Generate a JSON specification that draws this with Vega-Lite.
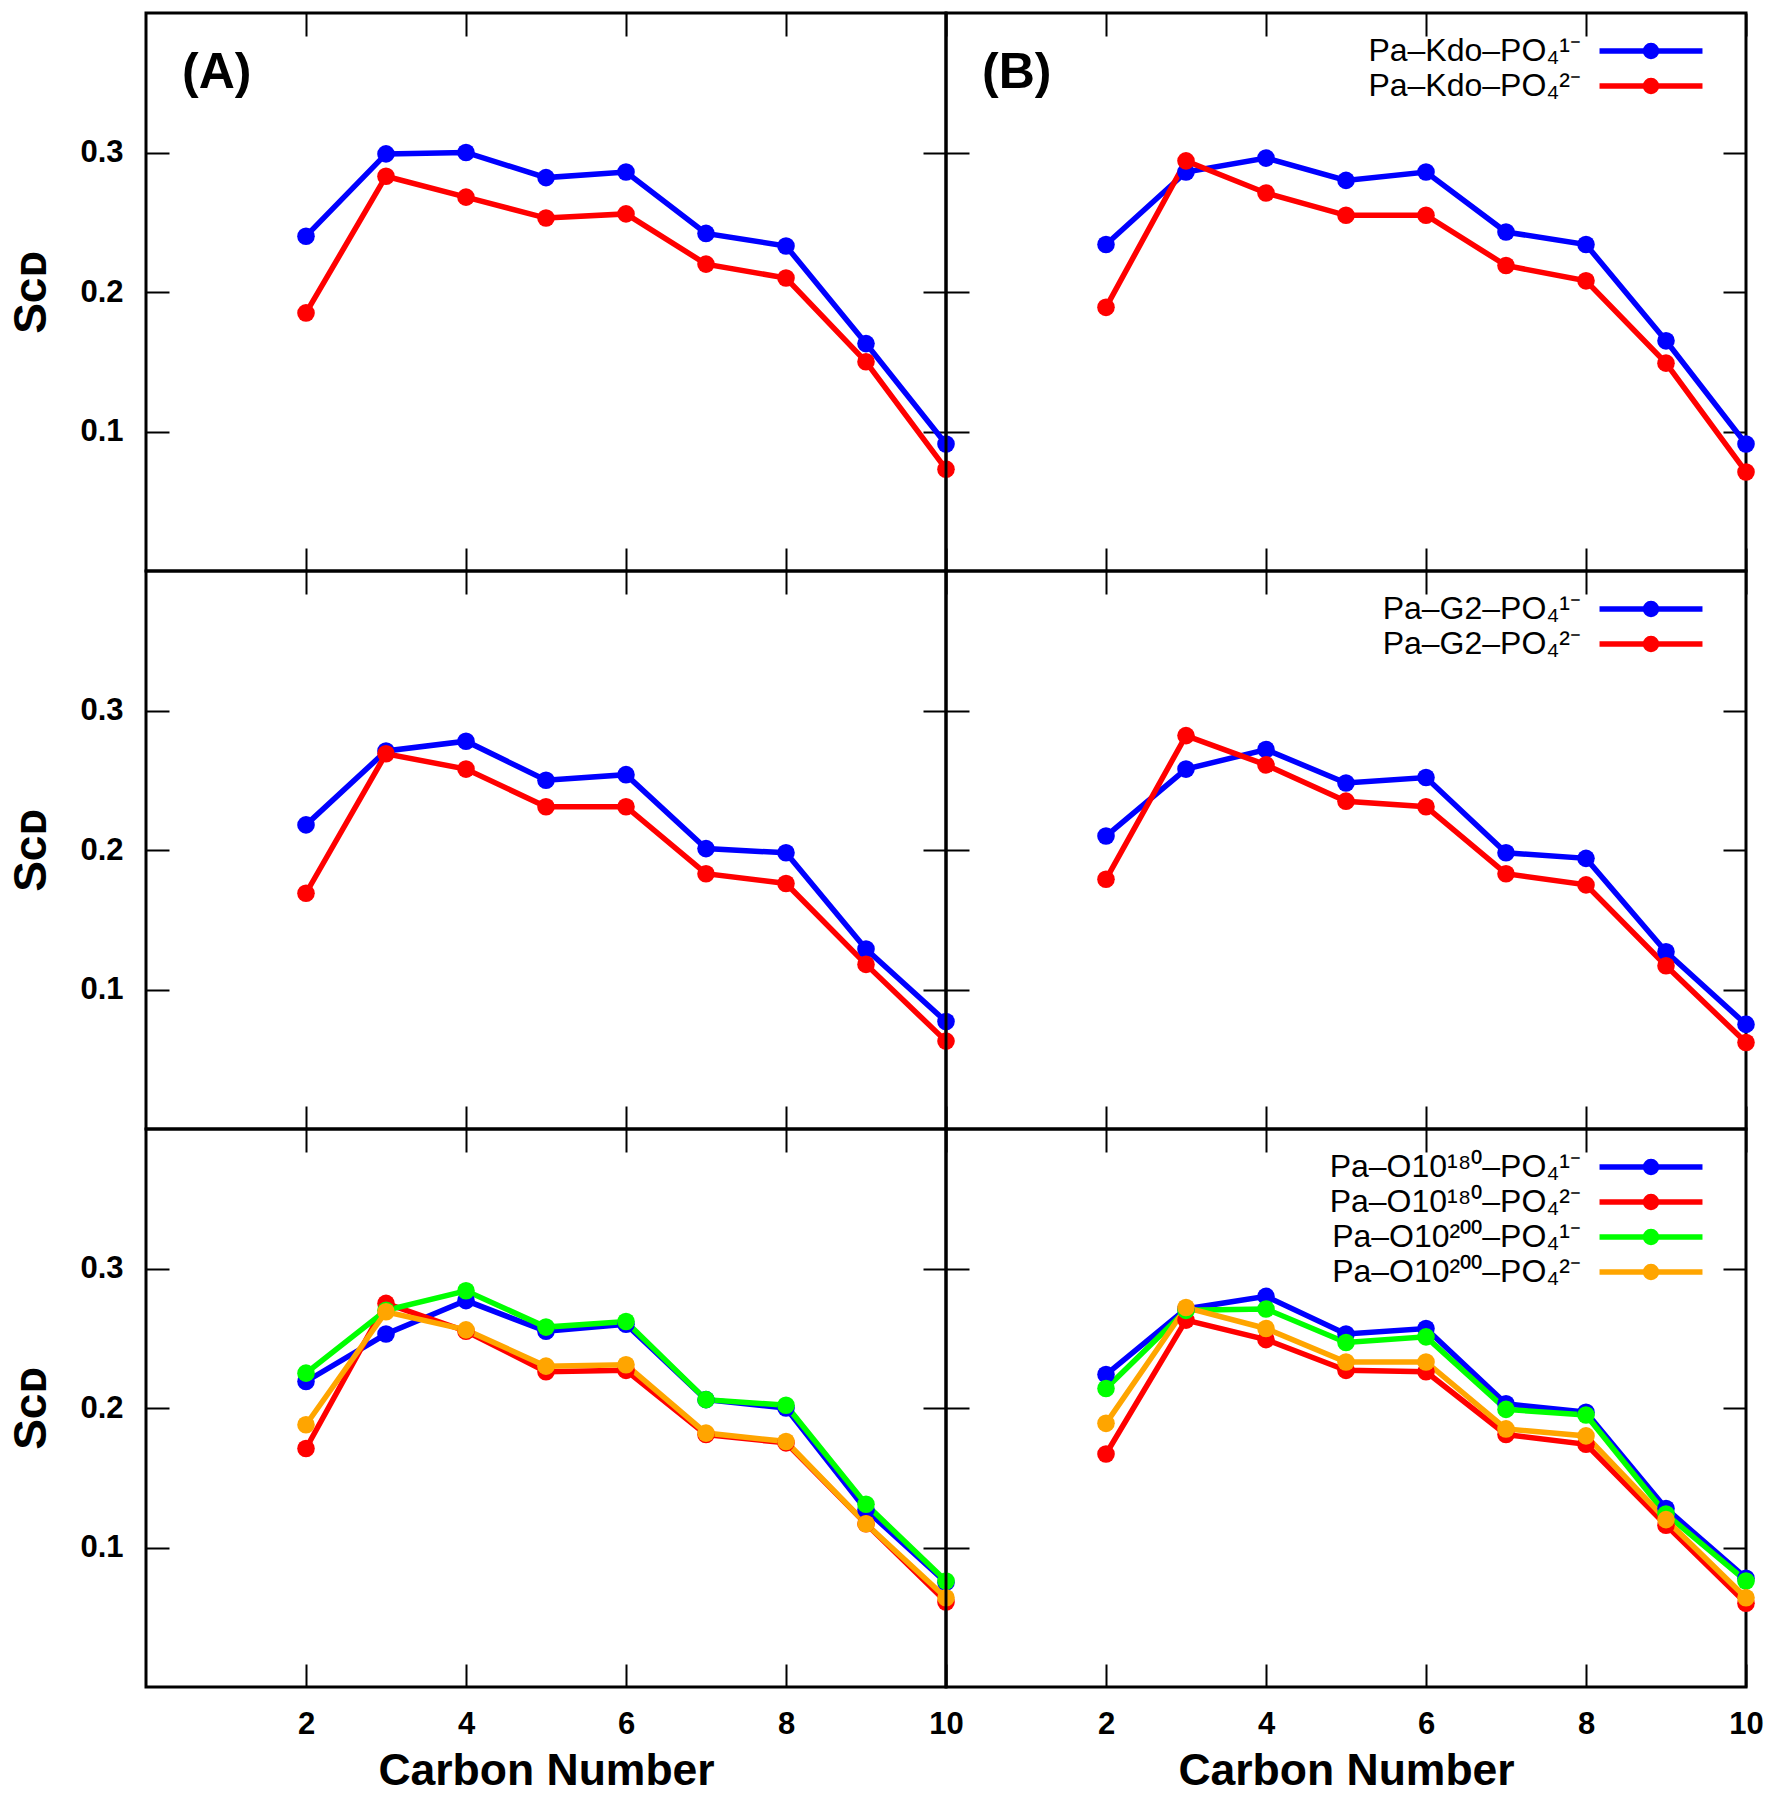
{
  "$schema": "https://vega.github.io/schema/vega-lite/v6.json",
  "padding": {"left": 7, "top": 10, "right": 5, "bottom": 5},
  "background": "white",
  "bounds": "flush",
  "spacing": 0,
  "columns": 2,
  "datasets": {
    "a1": [
      {"c": 2, "s": 0.240, "k": "Pa–Kdo–PO₄¹⁻"}, {"c": 3, "s": 0.299, "k": "Pa–Kdo–PO₄¹⁻"}, {"c": 4, "s": 0.300, "k": "Pa–Kdo–PO₄¹⁻"}, {"c": 5, "s": 0.282, "k": "Pa–Kdo–PO₄¹⁻"}, {"c": 6, "s": 0.286, "k": "Pa–Kdo–PO₄¹⁻"}, {"c": 7, "s": 0.242, "k": "Pa–Kdo–PO₄¹⁻"}, {"c": 8, "s": 0.233, "k": "Pa–Kdo–PO₄¹⁻"}, {"c": 9, "s": 0.163, "k": "Pa–Kdo–PO₄¹⁻"}, {"c": 10, "s": 0.091, "k": "Pa–Kdo–PO₄¹⁻"},
      {"c": 2, "s": 0.185, "k": "Pa–Kdo–PO₄²⁻"}, {"c": 3, "s": 0.283, "k": "Pa–Kdo–PO₄²⁻"}, {"c": 4, "s": 0.268, "k": "Pa–Kdo–PO₄²⁻"}, {"c": 5, "s": 0.253, "k": "Pa–Kdo–PO₄²⁻"}, {"c": 6, "s": 0.256, "k": "Pa–Kdo–PO₄²⁻"}, {"c": 7, "s": 0.220, "k": "Pa–Kdo–PO₄²⁻"}, {"c": 8, "s": 0.210, "k": "Pa–Kdo–PO₄²⁻"}, {"c": 9, "s": 0.150, "k": "Pa–Kdo–PO₄²⁻"}, {"c": 10, "s": 0.073, "k": "Pa–Kdo–PO₄²⁻"}
    ],
    "b1": [
      {"c": 2, "s": 0.234, "k": "Pa–Kdo–PO₄¹⁻"}, {"c": 3, "s": 0.286, "k": "Pa–Kdo–PO₄¹⁻"}, {"c": 4, "s": 0.296, "k": "Pa–Kdo–PO₄¹⁻"}, {"c": 5, "s": 0.280, "k": "Pa–Kdo–PO₄¹⁻"}, {"c": 6, "s": 0.286, "k": "Pa–Kdo–PO₄¹⁻"}, {"c": 7, "s": 0.243, "k": "Pa–Kdo–PO₄¹⁻"}, {"c": 8, "s": 0.234, "k": "Pa–Kdo–PO₄¹⁻"}, {"c": 9, "s": 0.165, "k": "Pa–Kdo–PO₄¹⁻"}, {"c": 10, "s": 0.091, "k": "Pa–Kdo–PO₄¹⁻"},
      {"c": 2, "s": 0.189, "k": "Pa–Kdo–PO₄²⁻"}, {"c": 3, "s": 0.294, "k": "Pa–Kdo–PO₄²⁻"}, {"c": 4, "s": 0.271, "k": "Pa–Kdo–PO₄²⁻"}, {"c": 5, "s": 0.255, "k": "Pa–Kdo–PO₄²⁻"}, {"c": 6, "s": 0.255, "k": "Pa–Kdo–PO₄²⁻"}, {"c": 7, "s": 0.219, "k": "Pa–Kdo–PO₄²⁻"}, {"c": 8, "s": 0.208, "k": "Pa–Kdo–PO₄²⁻"}, {"c": 9, "s": 0.149, "k": "Pa–Kdo–PO₄²⁻"}, {"c": 10, "s": 0.071, "k": "Pa–Kdo–PO₄²⁻"}
    ],
    "a2": [
      {"c": 2, "s": 0.218, "k": "Pa–G2–PO₄¹⁻"}, {"c": 3, "s": 0.271, "k": "Pa–G2–PO₄¹⁻"}, {"c": 4, "s": 0.278, "k": "Pa–G2–PO₄¹⁻"}, {"c": 5, "s": 0.250, "k": "Pa–G2–PO₄¹⁻"}, {"c": 6, "s": 0.254, "k": "Pa–G2–PO₄¹⁻"}, {"c": 7, "s": 0.201, "k": "Pa–G2–PO₄¹⁻"}, {"c": 8, "s": 0.198, "k": "Pa–G2–PO₄¹⁻"}, {"c": 9, "s": 0.129, "k": "Pa–G2–PO₄¹⁻"}, {"c": 10, "s": 0.077, "k": "Pa–G2–PO₄¹⁻"},
      {"c": 2, "s": 0.169, "k": "Pa–G2–PO₄²⁻"}, {"c": 3, "s": 0.269, "k": "Pa–G2–PO₄²⁻"}, {"c": 4, "s": 0.258, "k": "Pa–G2–PO₄²⁻"}, {"c": 5, "s": 0.231, "k": "Pa–G2–PO₄²⁻"}, {"c": 6, "s": 0.231, "k": "Pa–G2–PO₄²⁻"}, {"c": 7, "s": 0.183, "k": "Pa–G2–PO₄²⁻"}, {"c": 8, "s": 0.176, "k": "Pa–G2–PO₄²⁻"}, {"c": 9, "s": 0.118, "k": "Pa–G2–PO₄²⁻"}, {"c": 10, "s": 0.063, "k": "Pa–G2–PO₄²⁻"}
    ],
    "b2": [
      {"c": 2, "s": 0.210, "k": "Pa–G2–PO₄¹⁻"}, {"c": 3, "s": 0.258, "k": "Pa–G2–PO₄¹⁻"}, {"c": 4, "s": 0.272, "k": "Pa–G2–PO₄¹⁻"}, {"c": 5, "s": 0.248, "k": "Pa–G2–PO₄¹⁻"}, {"c": 6, "s": 0.252, "k": "Pa–G2–PO₄¹⁻"}, {"c": 7, "s": 0.198, "k": "Pa–G2–PO₄¹⁻"}, {"c": 8, "s": 0.194, "k": "Pa–G2–PO₄¹⁻"}, {"c": 9, "s": 0.127, "k": "Pa–G2–PO₄¹⁻"}, {"c": 10, "s": 0.075, "k": "Pa–G2–PO₄¹⁻"},
      {"c": 2, "s": 0.179, "k": "Pa–G2–PO₄²⁻"}, {"c": 3, "s": 0.282, "k": "Pa–G2–PO₄²⁻"}, {"c": 4, "s": 0.261, "k": "Pa–G2–PO₄²⁻"}, {"c": 5, "s": 0.235, "k": "Pa–G2–PO₄²⁻"}, {"c": 6, "s": 0.231, "k": "Pa–G2–PO₄²⁻"}, {"c": 7, "s": 0.183, "k": "Pa–G2–PO₄²⁻"}, {"c": 8, "s": 0.175, "k": "Pa–G2–PO₄²⁻"}, {"c": 9, "s": 0.117, "k": "Pa–G2–PO₄²⁻"}, {"c": 10, "s": 0.062, "k": "Pa–G2–PO₄²⁻"}
    ],
    "a3": [
      {"c": 2, "s": 0.219, "k": "Pa–O10¹⁸⁰–PO₄¹⁻"}, {"c": 3, "s": 0.253, "k": "Pa–O10¹⁸⁰–PO₄¹⁻"}, {"c": 4, "s": 0.277, "k": "Pa–O10¹⁸⁰–PO₄¹⁻"}, {"c": 5, "s": 0.255, "k": "Pa–O10¹⁸⁰–PO₄¹⁻"}, {"c": 6, "s": 0.260, "k": "Pa–O10¹⁸⁰–PO₄¹⁻"}, {"c": 7, "s": 0.206, "k": "Pa–O10¹⁸⁰–PO₄¹⁻"}, {"c": 8, "s": 0.200, "k": "Pa–O10¹⁸⁰–PO₄¹⁻"}, {"c": 9, "s": 0.127, "k": "Pa–O10¹⁸⁰–PO₄¹⁻"}, {"c": 10, "s": 0.075, "k": "Pa–O10¹⁸⁰–PO₄¹⁻"},
      {"c": 2, "s": 0.171, "k": "Pa–O10¹⁸⁰–PO₄²⁻"}, {"c": 3, "s": 0.275, "k": "Pa–O10¹⁸⁰–PO₄²⁻"}, {"c": 4, "s": 0.255, "k": "Pa–O10¹⁸⁰–PO₄²⁻"}, {"c": 5, "s": 0.226, "k": "Pa–O10¹⁸⁰–PO₄²⁻"}, {"c": 6, "s": 0.227, "k": "Pa–O10¹⁸⁰–PO₄²⁻"}, {"c": 7, "s": 0.181, "k": "Pa–O10¹⁸⁰–PO₄²⁻"}, {"c": 8, "s": 0.175, "k": "Pa–O10¹⁸⁰–PO₄²⁻"}, {"c": 9, "s": 0.117, "k": "Pa–O10¹⁸⁰–PO₄²⁻"}, {"c": 10, "s": 0.061, "k": "Pa–O10¹⁸⁰–PO₄²⁻"},
      {"c": 2, "s": 0.225, "k": "Pa–O10²⁰⁰–PO₄¹⁻"}, {"c": 3, "s": 0.270, "k": "Pa–O10²⁰⁰–PO₄¹⁻"}, {"c": 4, "s": 0.284, "k": "Pa–O10²⁰⁰–PO₄¹⁻"}, {"c": 5, "s": 0.258, "k": "Pa–O10²⁰⁰–PO₄¹⁻"}, {"c": 6, "s": 0.262, "k": "Pa–O10²⁰⁰–PO₄¹⁻"}, {"c": 7, "s": 0.206, "k": "Pa–O10²⁰⁰–PO₄¹⁻"}, {"c": 8, "s": 0.202, "k": "Pa–O10²⁰⁰–PO₄¹⁻"}, {"c": 9, "s": 0.131, "k": "Pa–O10²⁰⁰–PO₄¹⁻"}, {"c": 10, "s": 0.076, "k": "Pa–O10²⁰⁰–PO₄¹⁻"},
      {"c": 2, "s": 0.188, "k": "Pa–O10²⁰⁰–PO₄²⁻"}, {"c": 3, "s": 0.269, "k": "Pa–O10²⁰⁰–PO₄²⁻"}, {"c": 4, "s": 0.256, "k": "Pa–O10²⁰⁰–PO₄²⁻"}, {"c": 5, "s": 0.230, "k": "Pa–O10²⁰⁰–PO₄²⁻"}, {"c": 6, "s": 0.231, "k": "Pa–O10²⁰⁰–PO₄²⁻"}, {"c": 7, "s": 0.182, "k": "Pa–O10²⁰⁰–PO₄²⁻"}, {"c": 8, "s": 0.176, "k": "Pa–O10²⁰⁰–PO₄²⁻"}, {"c": 9, "s": 0.117, "k": "Pa–O10²⁰⁰–PO₄²⁻"}, {"c": 10, "s": 0.064, "k": "Pa–O10²⁰⁰–PO₄²⁻"}
    ],
    "b3": [
      {"c": 2, "s": 0.224, "k": "Pa–O10¹⁸⁰–PO₄¹⁻"}, {"c": 3, "s": 0.271, "k": "Pa–O10¹⁸⁰–PO₄¹⁻"}, {"c": 4, "s": 0.280, "k": "Pa–O10¹⁸⁰–PO₄¹⁻"}, {"c": 5, "s": 0.253, "k": "Pa–O10¹⁸⁰–PO₄¹⁻"}, {"c": 6, "s": 0.257, "k": "Pa–O10¹⁸⁰–PO₄¹⁻"}, {"c": 7, "s": 0.203, "k": "Pa–O10¹⁸⁰–PO₄¹⁻"}, {"c": 8, "s": 0.197, "k": "Pa–O10¹⁸⁰–PO₄¹⁻"}, {"c": 9, "s": 0.128, "k": "Pa–O10¹⁸⁰–PO₄¹⁻"}, {"c": 10, "s": 0.078, "k": "Pa–O10¹⁸⁰–PO₄¹⁻"},
      {"c": 2, "s": 0.167, "k": "Pa–O10¹⁸⁰–PO₄²⁻"}, {"c": 3, "s": 0.263, "k": "Pa–O10¹⁸⁰–PO₄²⁻"}, {"c": 4, "s": 0.249, "k": "Pa–O10¹⁸⁰–PO₄²⁻"}, {"c": 5, "s": 0.227, "k": "Pa–O10¹⁸⁰–PO₄²⁻"}, {"c": 6, "s": 0.226, "k": "Pa–O10¹⁸⁰–PO₄²⁻"}, {"c": 7, "s": 0.181, "k": "Pa–O10¹⁸⁰–PO₄²⁻"}, {"c": 8, "s": 0.174, "k": "Pa–O10¹⁸⁰–PO₄²⁻"}, {"c": 9, "s": 0.116, "k": "Pa–O10¹⁸⁰–PO₄²⁻"}, {"c": 10, "s": 0.060, "k": "Pa–O10¹⁸⁰–PO₄²⁻"},
      {"c": 2, "s": 0.214, "k": "Pa–O10²⁰⁰–PO₄¹⁻"}, {"c": 3, "s": 0.270, "k": "Pa–O10²⁰⁰–PO₄¹⁻"}, {"c": 4, "s": 0.271, "k": "Pa–O10²⁰⁰–PO₄¹⁻"}, {"c": 5, "s": 0.247, "k": "Pa–O10²⁰⁰–PO₄¹⁻"}, {"c": 6, "s": 0.251, "k": "Pa–O10²⁰⁰–PO₄¹⁻"}, {"c": 7, "s": 0.199, "k": "Pa–O10²⁰⁰–PO₄¹⁻"}, {"c": 8, "s": 0.195, "k": "Pa–O10²⁰⁰–PO₄¹⁻"}, {"c": 9, "s": 0.124, "k": "Pa–O10²⁰⁰–PO₄¹⁻"}, {"c": 10, "s": 0.076, "k": "Pa–O10²⁰⁰–PO₄¹⁻"},
      {"c": 2, "s": 0.189, "k": "Pa–O10²⁰⁰–PO₄²⁻"}, {"c": 3, "s": 0.272, "k": "Pa–O10²⁰⁰–PO₄²⁻"}, {"c": 4, "s": 0.257, "k": "Pa–O10²⁰⁰–PO₄²⁻"}, {"c": 5, "s": 0.233, "k": "Pa–O10²⁰⁰–PO₄²⁻"}, {"c": 6, "s": 0.233, "k": "Pa–O10²⁰⁰–PO₄²⁻"}, {"c": 7, "s": 0.185, "k": "Pa–O10²⁰⁰–PO₄²⁻"}, {"c": 8, "s": 0.180, "k": "Pa–O10²⁰⁰–PO₄²⁻"}, {"c": 9, "s": 0.120, "k": "Pa–O10²⁰⁰–PO₄²⁻"}, {"c": 10, "s": 0.064, "k": "Pa–O10²⁰⁰–PO₄²⁻"}
    ]
  },
  "resolve": {"scale": {"color": "independent"}, "legend": {"color": "independent"}},
  "concat": [
    {
      "width": 800, "height": 558,
      "data": {"name": "a1"},
      "title": {"text": "(A)", "anchor": "start", "frame": "group", "orient": "top", "offset": 0, "dx": 36, "dy": 86, "baseline": "top", "fontSize": 50, "fontWeight": "bold", "font": "Liberation Sans", "color": "black"},
      "layer": [
        {"mark": {"type": "line", "strokeWidth": 5.5},
         "encoding": {
           "x": {"field": "c", "type": "quantitative", "scale": {"domain": [0, 10], "nice": false, "zero": false}, "axis": {"orient": "bottom", "values": [2, 4, 6, 8, 10], "labels": false, "title": null}},
           "y": {"field": "s", "type": "quantitative", "scale": {"domain": [0, 0.4], "nice": false}, "axis": {"orient": "left", "values": [0.1, 0.2, 0.3], "format": ".1f", "title": "Sᴄᴅ"}},
           "color": {"field": "k", "type": "nominal", "sort": null, "scale": {"domain": ["Pa–Kdo–PO₄¹⁻", "Pa–Kdo–PO₄²⁻"], "range": ["#0000ff", "#ff0000"]}, "legend": null}}},
        {"mark": {"type": "point", "filled": true, "size": 310, "opacity": 1},
         "encoding": {"x": {"field": "c", "type": "quantitative", "axis": null}, "y": {"field": "s", "type": "quantitative", "axis": null}, "color": {"field": "k", "type": "nominal", "legend": null}}},
        {"mark": {"type": "point", "opacity": 0},
         "encoding": {"x": {"field": "c", "type": "quantitative", "axis": {"orient": "top", "values": [2, 4, 6, 8, 10], "labels": false, "title": null}}, "y": {"field": "s", "type": "quantitative", "axis": {"orient": "right", "values": [0.1, 0.2, 0.3], "labels": false, "title": null}}}}
      ],
      "resolve": {"axis": {"x": "independent", "y": "independent"}}
    },
    {
      "width": 800, "height": 558,
      "data": {"name": "b1"},
      "title": {"text": "(B)", "anchor": "start", "frame": "group", "orient": "top", "offset": 0, "dx": 36, "dy": 86, "baseline": "top", "fontSize": 50, "fontWeight": "bold", "font": "Liberation Sans", "color": "black"},
      "layer": [
        {"mark": {"type": "line", "strokeWidth": 5.5},
         "encoding": {
           "x": {"field": "c", "type": "quantitative", "scale": {"domain": [0, 10], "nice": false, "zero": false}, "axis": {"orient": "bottom", "values": [2, 4, 6, 8, 10], "labels": false, "title": null}},
           "y": {"field": "s", "type": "quantitative", "scale": {"domain": [0, 0.4], "nice": false}, "axis": {"orient": "left", "values": [0.1, 0.2, 0.3], "labels": false, "title": null}},
           "color": {"field": "k", "type": "nominal", "sort": null, "scale": {"domain": ["Pa–Kdo–PO₄¹⁻", "Pa–Kdo–PO₄²⁻"], "range": ["#0000ff", "#ff0000"]},
             "legend": {"title": null, "orient": "top-right", "offset": 22, "padding": 0, "labelFont": "Liberation Sans", "labelFontSize": 32, "labelColor": "black", "labelAlign": "right", "labelOffset": -86, "labelLimit": 0, "symbolType": "M-5,0H5M0.534,0A0.534,0.534,0,1,1,-0.534,0A0.534,0.534,0,1,1,0.534,0M0.243,0A0.243,0.243,0,1,1,-0.243,0A0.243,0.243,0,1,1,0.243,0M6,0", "symbolSize": 424, "symbolStrokeWidth": 5.5, "rowPadding": 1}}}},
        {"mark": {"type": "point", "filled": true, "size": 310, "opacity": 1},
         "encoding": {"x": {"field": "c", "type": "quantitative", "axis": null}, "y": {"field": "s", "type": "quantitative", "axis": null}, "color": {"field": "k", "type": "nominal", "legend": null}}},
        {"mark": {"type": "point", "opacity": 0},
         "encoding": {"x": {"field": "c", "type": "quantitative", "axis": {"orient": "top", "values": [2, 4, 6, 8, 10], "labels": false, "title": null}}, "y": {"field": "s", "type": "quantitative", "axis": {"orient": "right", "values": [0.1, 0.2, 0.3], "labels": false, "title": null}}}}
      ],
      "resolve": {"axis": {"x": "independent", "y": "independent"}}
    },
    {
      "width": 800, "height": 558,
      "data": {"name": "a2"},
      "layer": [
        {"mark": {"type": "line", "strokeWidth": 5.5},
         "encoding": {
           "x": {"field": "c", "type": "quantitative", "scale": {"domain": [0, 10], "nice": false, "zero": false}, "axis": {"orient": "bottom", "values": [2, 4, 6, 8, 10], "labels": false, "title": null}},
           "y": {"field": "s", "type": "quantitative", "scale": {"domain": [0, 0.4], "nice": false}, "axis": {"orient": "left", "values": [0.1, 0.2, 0.3], "format": ".1f", "title": "Sᴄᴅ"}},
           "color": {"field": "k", "type": "nominal", "sort": null, "scale": {"domain": ["Pa–G2–PO₄¹⁻", "Pa–G2–PO₄²⁻"], "range": ["#0000ff", "#ff0000"]}, "legend": null}}},
        {"mark": {"type": "point", "filled": true, "size": 310, "opacity": 1},
         "encoding": {"x": {"field": "c", "type": "quantitative", "axis": null}, "y": {"field": "s", "type": "quantitative", "axis": null}, "color": {"field": "k", "type": "nominal", "legend": null}}},
        {"mark": {"type": "point", "opacity": 0},
         "encoding": {"x": {"field": "c", "type": "quantitative", "axis": {"orient": "top", "values": [2, 4, 6, 8, 10], "labels": false, "title": null}}, "y": {"field": "s", "type": "quantitative", "axis": {"orient": "right", "values": [0.1, 0.2, 0.3], "labels": false, "title": null}}}}
      ],
      "resolve": {"axis": {"x": "independent", "y": "independent"}}
    },
    {
      "width": 800, "height": 558,
      "data": {"name": "b2"},
      "layer": [
        {"mark": {"type": "line", "strokeWidth": 5.5},
         "encoding": {
           "x": {"field": "c", "type": "quantitative", "scale": {"domain": [0, 10], "nice": false, "zero": false}, "axis": {"orient": "bottom", "values": [2, 4, 6, 8, 10], "labels": false, "title": null}},
           "y": {"field": "s", "type": "quantitative", "scale": {"domain": [0, 0.4], "nice": false}, "axis": {"orient": "left", "values": [0.1, 0.2, 0.3], "labels": false, "title": null}},
           "color": {"field": "k", "type": "nominal", "sort": null, "scale": {"domain": ["Pa–G2–PO₄¹⁻", "Pa–G2–PO₄²⁻"], "range": ["#0000ff", "#ff0000"]},
             "legend": {"title": null, "orient": "top-right", "offset": 22, "padding": 0, "labelFont": "Liberation Sans", "labelFontSize": 32, "labelColor": "black", "labelAlign": "right", "labelOffset": -86, "labelLimit": 0, "symbolType": "M-5,0H5M0.534,0A0.534,0.534,0,1,1,-0.534,0A0.534,0.534,0,1,1,0.534,0M0.243,0A0.243,0.243,0,1,1,-0.243,0A0.243,0.243,0,1,1,0.243,0M6,0", "symbolSize": 424, "symbolStrokeWidth": 5.5, "rowPadding": 1}}}},
        {"mark": {"type": "point", "filled": true, "size": 310, "opacity": 1},
         "encoding": {"x": {"field": "c", "type": "quantitative", "axis": null}, "y": {"field": "s", "type": "quantitative", "axis": null}, "color": {"field": "k", "type": "nominal", "legend": null}}},
        {"mark": {"type": "point", "opacity": 0},
         "encoding": {"x": {"field": "c", "type": "quantitative", "axis": {"orient": "top", "values": [2, 4, 6, 8, 10], "labels": false, "title": null}}, "y": {"field": "s", "type": "quantitative", "axis": {"orient": "right", "values": [0.1, 0.2, 0.3], "labels": false, "title": null}}}}
      ],
      "resolve": {"axis": {"x": "independent", "y": "independent"}}
    },
    {
      "width": 800, "height": 558,
      "data": {"name": "a3"},
      "layer": [
        {"mark": {"type": "line", "strokeWidth": 5.5},
         "encoding": {
           "x": {"field": "c", "type": "quantitative", "scale": {"domain": [0, 10], "nice": false, "zero": false}, "axis": {"orient": "bottom", "values": [2, 4, 6, 8, 10], "format": "d", "title": "Carbon Number"}},
           "y": {"field": "s", "type": "quantitative", "scale": {"domain": [0, 0.4], "nice": false}, "axis": {"orient": "left", "values": [0.1, 0.2, 0.3], "format": ".1f", "title": "Sᴄᴅ"}},
           "color": {"field": "k", "type": "nominal", "sort": null, "scale": {"domain": ["Pa–O10¹⁸⁰–PO₄¹⁻", "Pa–O10¹⁸⁰–PO₄²⁻", "Pa–O10²⁰⁰–PO₄¹⁻", "Pa–O10²⁰⁰–PO₄²⁻"], "range": ["#0000ff", "#ff0000", "#00ff00", "#ffa500"]}, "legend": null}}},
        {"mark": {"type": "point", "filled": true, "size": 310, "opacity": 1},
         "encoding": {"x": {"field": "c", "type": "quantitative", "axis": null}, "y": {"field": "s", "type": "quantitative", "axis": null}, "color": {"field": "k", "type": "nominal", "legend": null}}},
        {"mark": {"type": "point", "opacity": 0},
         "encoding": {"x": {"field": "c", "type": "quantitative", "axis": {"orient": "top", "values": [2, 4, 6, 8, 10], "labels": false, "title": null}}, "y": {"field": "s", "type": "quantitative", "axis": {"orient": "right", "values": [0.1, 0.2, 0.3], "labels": false, "title": null}}}}
      ],
      "resolve": {"axis": {"x": "independent", "y": "independent"}}
    },
    {
      "width": 800, "height": 558,
      "data": {"name": "b3"},
      "layer": [
        {"mark": {"type": "line", "strokeWidth": 5.5},
         "encoding": {
           "x": {"field": "c", "type": "quantitative", "scale": {"domain": [0, 10], "nice": false, "zero": false}, "axis": {"orient": "bottom", "values": [2, 4, 6, 8, 10], "format": "d", "title": "Carbon Number"}},
           "y": {"field": "s", "type": "quantitative", "scale": {"domain": [0, 0.4], "nice": false}, "axis": {"orient": "left", "values": [0.1, 0.2, 0.3], "labels": false, "title": null}},
           "color": {"field": "k", "type": "nominal", "sort": null, "scale": {"domain": ["Pa–O10¹⁸⁰–PO₄¹⁻", "Pa–O10¹⁸⁰–PO₄²⁻", "Pa–O10²⁰⁰–PO₄¹⁻", "Pa–O10²⁰⁰–PO₄²⁻"], "range": ["#0000ff", "#ff0000", "#00ff00", "#ffa500"]},
             "legend": {"title": null, "orient": "top-right", "offset": 22, "padding": 0, "labelFont": "Liberation Sans", "labelFontSize": 32, "labelColor": "black", "labelAlign": "right", "labelOffset": -86, "labelLimit": 0, "symbolType": "M-5,0H5M0.534,0A0.534,0.534,0,1,1,-0.534,0A0.534,0.534,0,1,1,0.534,0M0.243,0A0.243,0.243,0,1,1,-0.243,0A0.243,0.243,0,1,1,0.243,0M6,0", "symbolSize": 424, "symbolStrokeWidth": 5.5, "rowPadding": 1}}}},
        {"mark": {"type": "point", "filled": true, "size": 310, "opacity": 1},
         "encoding": {"x": {"field": "c", "type": "quantitative", "axis": null}, "y": {"field": "s", "type": "quantitative", "axis": null}, "color": {"field": "k", "type": "nominal", "legend": null}}},
        {"mark": {"type": "point", "opacity": 0},
         "encoding": {"x": {"field": "c", "type": "quantitative", "axis": {"orient": "top", "values": [2, 4, 6, 8, 10], "labels": false, "title": null}}, "y": {"field": "s", "type": "quantitative", "axis": {"orient": "right", "values": [0.1, 0.2, 0.3], "labels": false, "title": null}}}}
      ],
      "resolve": {"axis": {"x": "independent", "y": "independent"}}
    }
  ],
  "config": {
    "view": {"stroke": "black", "strokeWidth": 3},
    "font": "Liberation Sans",
    "axis": {"grid": false, "domain": false, "ticks": true, "tickColor": "black", "tickWidth": 2, "tickSize": -23, "labelColor": "black", "labelFont": "Liberation Sans", "labelFontSize": 31, "labelFontWeight": "bold", "labelFlush": false, "labelOverlap": false, "titleColor": "black", "titleFont": "Liberation Sans", "titleFontSize": 46, "titleFontWeight": "bold"},
    "axisX": {"labelPadding": 45, "titlePadding": 10, "titleFontSize": 44.5},
    "axisY": {"labelPadding": 46, "titlePadding": 24}
  }
}
